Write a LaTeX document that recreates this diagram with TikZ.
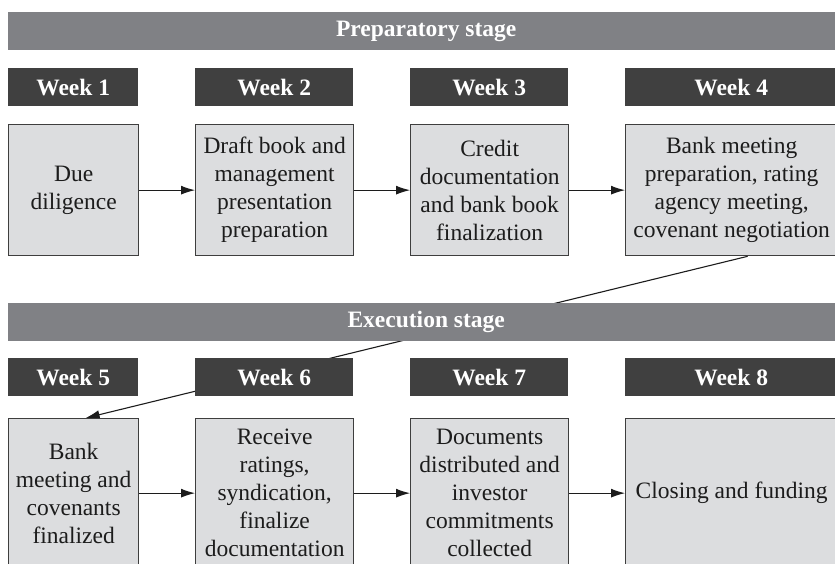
\documentclass[tikz,border=0pt]{standalone}
\usepackage{fontspec}
\setmainfont{Liberation Serif}
\usetikzlibrary{arrows.meta,backgrounds}
\definecolor{stagegray}{RGB}{128,129,133}
\definecolor{weekgray}{RGB}{64,64,64}
\definecolor{boxfill}{RGB}{220,221,223}
\definecolor{boxline}{RGB}{62,62,62}
\definecolor{ink}{RGB}{28,28,28}
\begin{document}
\begin{tikzpicture}[x=1pt,y=-1pt,
  stagebar/.style={fill=stagegray, text=white, inner sep=0pt, anchor=north west,
    minimum width=836pt, minimum height=38pt,
    font=\fontsize{23.5}{28}\selectfont\bfseries},
  weekhead/.style={fill=weekgray, text=white, inner sep=0pt, anchor=north west,
    minimum height=38pt, font=\fontsize{23.5}{28}\selectfont\bfseries},
  taskbox/.style={fill=boxfill, draw=boxline, line width=1.3pt, text=ink,
    inner sep=0pt, anchor=north west, align=center,
    font=\fontsize{23.5}{28}\selectfont},
  arr/.style={draw=ink, line width=1.1pt, -{Latex[length=14pt,width=9pt]}}]
\useasboundingbox (0,0) rectangle (835,563);
\clip (0,0) rectangle (835,563);

% Preparatory stage
\node[stagebar] (prep) at (8,12) {Preparatory stage};
\node[weekhead, minimum width=130pt] (w1) at (8,68) {Week 1};
\node[weekhead, minimum width=158pt] (w2) at (195,68) {Week 2};
\node[weekhead, minimum width=158pt] (w3) at (410,68) {Week 3};
\node[weekhead, minimum width=212pt] (w4) at (625,68) {Week 4};

\node[taskbox, minimum width=130pt, minimum height=131pt] (b1) at (8,124)
  {Due\\diligence};
\node[taskbox, minimum width=158pt, minimum height=131pt] (b2) at (195,124)
  {Draft book and\\management\\presentation\\preparation};
\node[taskbox, minimum width=158pt, minimum height=131pt] (b3) at (410,124)
  {Credit\\documentation\\and bank book\\finalization};
\node[taskbox, minimum width=212pt, minimum height=131pt] (b4) at (625,124)
  {Bank meeting\\preparation, rating\\agency meeting,\\covenant negotiation};

% Execution stage
\node[stagebar] (exec) at (8,303) {Execution stage};
\node[weekhead, minimum width=130pt] (w5) at (8,358) {Week 5};
\node[weekhead, minimum width=158pt] (w6) at (195,358) {Week 6};
\node[weekhead, minimum width=158pt] (w7) at (410,358) {Week 7};
\node[weekhead, minimum width=212pt] (w8) at (625,358) {Week 8};

\node[taskbox, minimum width=130pt, minimum height=149pt] (b5) at (8,418)
  {Bank\\meeting and\\covenants\\finalized};
\node[taskbox, minimum width=158pt, minimum height=149pt] (b6) at (195,418)
  {Receive\\ratings,\\syndication,\\finalize\\documentation};
\node[taskbox, minimum width=158pt, minimum height=149pt] (b7) at (410,418)
  {Documents\\distributed and\\investor\\commitments\\collected};
\node[taskbox, minimum width=212pt, minimum height=149pt] (b8) at (625,418)
  {Closing and funding};

% Flow within each stage
\draw[arr] (b1.east) -- (b2.west);
\draw[arr] (b2.east) -- (b3.west);
\draw[arr] (b3.east) -- (b4.west);
\draw[arr] (b5.east) -- (b6.west);
\draw[arr] (b6.east) -- (b7.west);
\draw[arr] (b7.east) -- (b8.west);

% Hand-over from week 4 to week 5, passing behind the bar and header
\begin{pgfonlayer}{background}
  \draw[arr] ([xshift=16pt]b4.south) -- ([xshift=12pt]b5.north);
\end{pgfonlayer}
\end{tikzpicture}
\end{document}
